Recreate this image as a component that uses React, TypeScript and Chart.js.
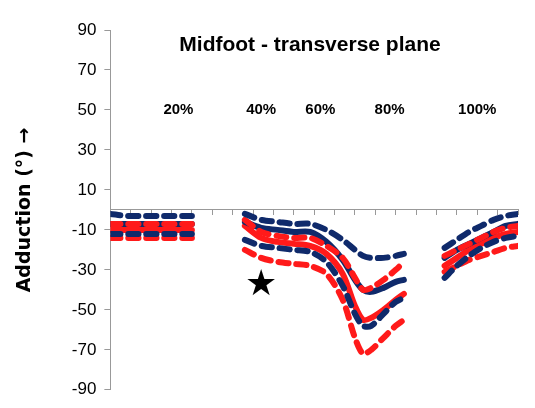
import { useEffect, useRef } from "react";
import Chart from "chart.js/auto";

// gait cycle (%) — null separates the three segments
const X = [0, 4, 8, 12, 16, 20, null, 33, 37, 41, 45, 49, 53, 57, 60, 62, 64, 67, 70, 72, null, 82, 85, 88, 91, 94, 97, 100];

const BLUE_MEAN = [-7, -7, -7, -7, -7, -7, null, -6, -9, -10, -11, -11, -16, -25, -35, -40, -41, -39, -36, -35, null, -24, -20, -17, -14, -11, -8, -7];
const BLUE_UP = [-2, -3, -3, -3, -3, -3, null, -2, -5, -6, -7, -7, -10, -15, -20, -23, -24, -24, -23, -22, null, -19, -15, -11, -8, -5, -3, -2];
const BLUE_LO = [-12, -12, -12, -12, -12, -12, null, -15, -18, -19, -20, -21, -26, -38, -52, -58, -58, -52, -46, -44, null, -34, -28, -23, -19, -16, -14, -13];
const RED_MEAN = [-10, -10, -10, -10, -10, -10, null, -8, -14, -16, -17, -18, -22, -32, -48, -55, -54, -50, -45, -42, null, -28, -24, -20, -17, -14, -12, -11];
const RED_UP = [-7, -7, -7, -7, -7, -7, null, -5, -11, -13, -14, -14, -18, -24, -34, -40, -39, -35, -30, -26, null, -23, -20, -17, -14, -11, -9, -8];
const RED_LO = [-14, -14, -14, -14, -14, -14, null, -20, -24, -26, -27, -28, -32, -45, -64, -72, -70, -64, -58, -55, null, -31, -28, -25, -23, -21, -19, -18];

const PCT_LABELS = ["20%", "40%", "60%", "80%", "100%"];
const PCT_X = [16.7, 37, 51.5, 68.5, 90];
const PCT_Y = 50;
const STAR = { x: 37, y: -38 };

const BLUE = "#0f2a6b";
const RED = "#ff1a1a";

const pts = (ys: (number | null)[]) => X.map((x, i) => ({ x: x as number, y: ys[i] as number }));

const mk = (label: string, ys: (number | null)[], color: string, dashed: boolean) => ({
  label,
  data: pts(ys),
  borderColor: color,
  borderWidth: 6,
  borderDash: dashed ? [10, 8] : [],
  borderCapStyle: "round" as const,
  pointRadius: 0,
  tension: 0.3,
  spanGaps: false,
});

const textPlugin = {
  id: "texts",
  afterDraw(chart: any) {
    const { ctx, scales } = chart;
    const xs = scales.x, ys = scales.y;
    ctx.save();
    ctx.fillStyle = "#000";
    ctx.textAlign = "center";
    ctx.textBaseline = "middle";
    ctx.font = "bold 15px 'Liberation Sans', Arial, sans-serif";
    PCT_LABELS.forEach((t, i) => ctx.fillText(t, xs.getPixelForValue(PCT_X[i]), ys.getPixelForValue(PCT_Y)));
    ctx.font = "36px 'DejaVu Sans', sans-serif";
    ctx.fillText("★", xs.getPixelForValue(STAR.x), ys.getPixelForValue(STAR.y));
    ctx.font = "bold 21px 'Liberation Sans', Arial, sans-serif";
    ctx.fillText("Midfoot - transverse plane", 310, 45);
    ctx.restore();
  },
};

export default function App() {
  const ref = useRef<HTMLCanvasElement>(null);
  useEffect(() => {
    if (!ref.current) return;
    const chart = new Chart(ref.current, {
      type: "line",
      data: {
        datasets: [
          mk("blue up", BLUE_UP, BLUE, true),
          mk("blue lo", BLUE_LO, BLUE, true),
          mk("red up", RED_UP, RED, true),
          mk("red lo", RED_LO, RED, true),
          mk("blue mean", BLUE_MEAN, BLUE, false),
          mk("red mean", RED_MEAN, RED, false),
        ],
      },
      options: {
        animation: false,
        responsive: false,
        layout: { padding: { top: 30, right: 17, bottom: 14, left: 10 } },
        plugins: { legend: { display: false }, tooltip: { enabled: false } },
        scales: {
          x: {
            type: "linear",
            min: 0,
            max: 100,
            position: { y: 0 },
            ticks: { stepSize: 5, callback: () => "", color: "#000" },
            grid: { drawOnChartArea: false, tickLength: 5, color: "#999" },
            border: { color: "#999" },
          },
          y: {
            min: -90,
            max: 90,
            ticks: { stepSize: 20, color: "#000", font: { size: 17, family: "'Liberation Sans', Arial, sans-serif" }, padding: 8 },
            grid: { drawOnChartArea: false, tickLength: 6, color: "#999" },
            border: { color: "#999" },
            title: {
              display: true,
              text: "Adduction (°) →",
              color: "#000",
              font: { size: 19, weight: "bold", family: "'DejaVu Sans', sans-serif" },
              padding: { bottom: 27 },
            },
          },
        },
      },
      plugins: [textPlugin],
    });
    return () => chart.destroy();
  }, []);
  return (
    <div style={{ position: "absolute", left: 0, top: 0, width: 535, height: 408, background: "#fff" }}>
      <canvas ref={ref} width={535} height={408} />
    </div>
  );
}
